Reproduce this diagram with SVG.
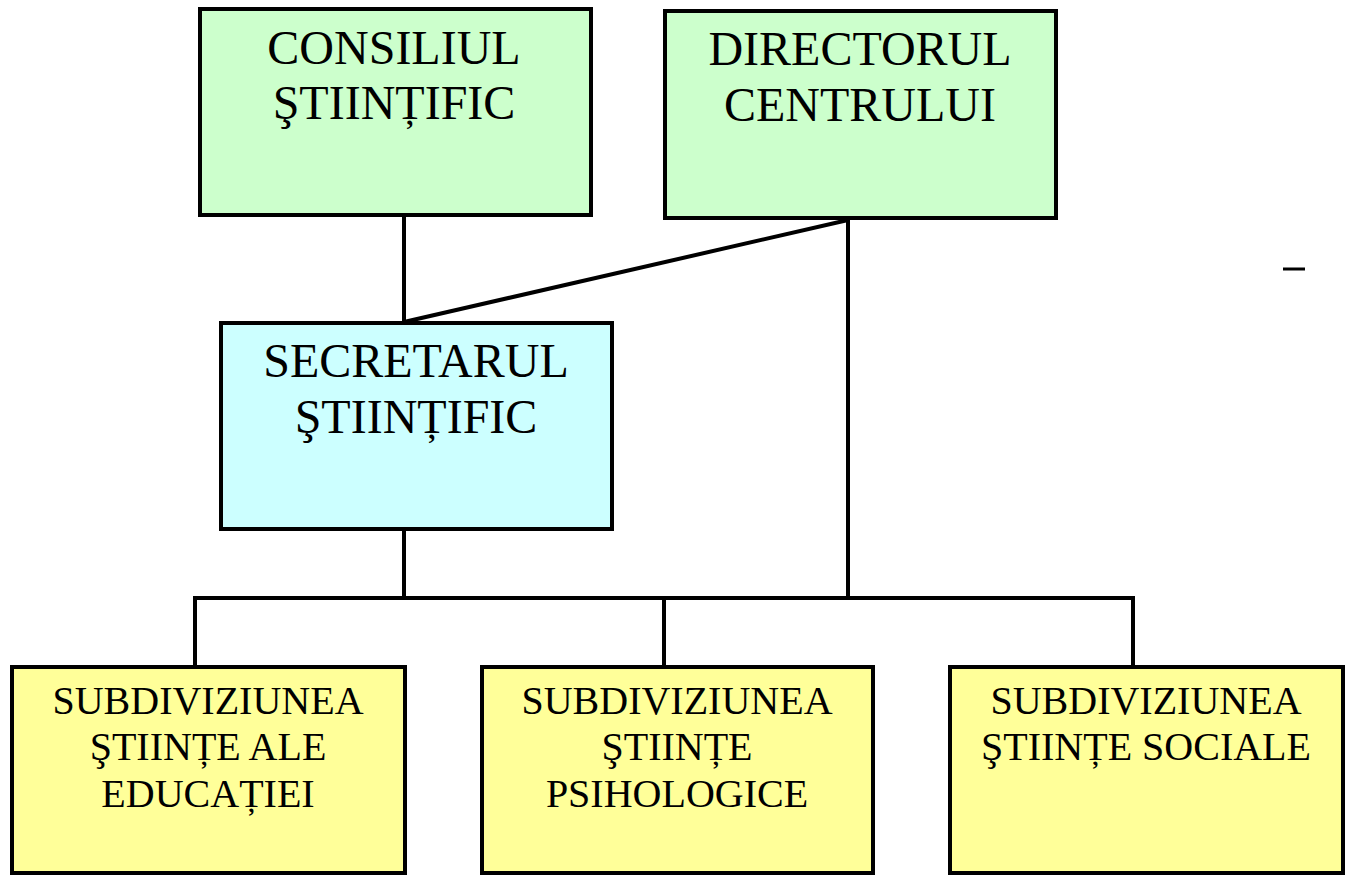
<svg xmlns="http://www.w3.org/2000/svg" width="1349" height="875" viewBox="0 0 1349 875">
<style>
.box{stroke:#000;stroke-width:4}
.g{fill:#CCFFCC}.c{fill:#CCFFFF}.y{fill:#FFFF99}
.t{font-family:"Liberation Serif","Times New Roman",serif;text-anchor:middle;fill:#000}
.big{font-size:48px}.sm{font-size:40px}
.ln{stroke:#000;stroke-width:4;fill:none}
</style>
<rect width="1349" height="875" fill="#fff"/>
<g id="connectors">
<line class="ln" x1="404" y1="217" x2="404" y2="322"/>
<line class="ln" x1="848" y1="220" x2="404" y2="322"/>
<line class="ln" x1="848" y1="220" x2="848" y2="598"/>
<line class="ln" x1="404" y1="530" x2="404" y2="598"/>
<polyline class="ln" points="195,666 195,598 1133,598 1133,666"/>
<line class="ln" x1="664" y1="598" x2="664" y2="666"/>
<line x1="1283" y1="269" x2="1305" y2="269" stroke="#000" stroke-width="3"/>
</g>
<g id="consiliul">
<rect class="box g" x="200" y="9" width="391" height="206"/>
<text class="t big" x="394" y="64">CONSILIUL</text>
<text class="t big" x="394" y="119">ŞTIINȚIFIC</text>
</g>
<g id="directorul">
<rect class="box g" x="665" y="11" width="391" height="207"/>
<text class="t big" x="860" y="65">DIRECTORUL</text>
<text class="t big" x="860" y="121">CENTRULUI</text>
</g>
<g id="secretarul">
<rect class="box c" x="221" y="323" width="391" height="206"/>
<text class="t big" x="416" y="377">SECRETARUL</text>
<text class="t big" x="416" y="433">ŞTIINȚIFIC</text>
</g>
<g id="sub1">
<rect class="box y" x="12" y="667" width="393" height="206"/>
<text class="t sm" x="208" y="714">SUBDIVIZIUNEA</text>
<text class="t sm" x="208" y="760">ŞTIINȚE ALE</text>
<text class="t sm" x="208" y="807">EDUCAȚIEI</text>
</g>
<g id="sub2">
<rect class="box y" x="482" y="667" width="391" height="206"/>
<text class="t sm" x="677" y="714">SUBDIVIZIUNEA</text>
<text class="t sm" x="677" y="760">ŞTIINȚE</text>
<text class="t sm" x="677" y="807">PSIHOLOGICE</text>
</g>
<g id="sub3">
<rect class="box y" x="950" y="667" width="393" height="206"/>
<text class="t sm" x="1146" y="714">SUBDIVIZIUNEA</text>
<text class="t sm" x="1146" y="760">ŞTIINȚE SOCIALE</text>
</g>
</svg>
